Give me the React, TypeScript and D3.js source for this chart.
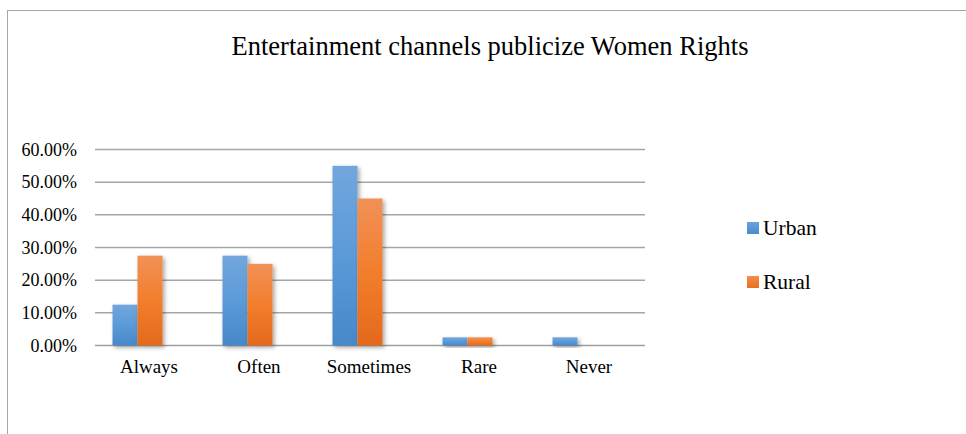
import React from "react";
import * as d3 from "d3";

const categories = ["Always", "Often", "Sometimes", "Rare", "Never"];
const seriesNames = ["Urban", "Rural"];
const urban = [0.125, 0.275, 0.55, 0.025, 0.025];
const rural = [0.275, 0.25, 0.45, 0.025, 0];
const yTicks = [0, 0.1, 0.2, 0.3, 0.4, 0.5, 0.6];

const W = 966;
const H = 434;
const FONT = "'Liberation Serif', 'Times New Roman', serif";

export default function App() {
  const x = d3.scaleBand<string>().domain(categories).range([95, 645]);
  const y = d3.scaleLinear().domain([0, 0.6]).range([345.5, 149.5]);
  const barW = 25;
  const series = [urban, rural];
  const fmt = d3.format(".2%");
  return (
    <svg
      width={W}
      height={H}
      style={{ position: "absolute", left: 0, top: 0, background: "#fff" }}
    >
      <defs>
        <linearGradient id="gBlue" x1="0" y1="0" x2="0" y2="1">
          <stop offset="0" stopColor="#72a6dd" />
          <stop offset="0.5" stopColor="#5b9ad8" />
          <stop offset="1" stopColor="#4788c8" />
        </linearGradient>
        <linearGradient id="gOrange" x1="0" y1="0" x2="0" y2="1">
          <stop offset="0" stopColor="#f19158" />
          <stop offset="0.5" stopColor="#f27e2c" />
          <stop offset="1" stopColor="#e4691c" />
        </linearGradient>
        <linearGradient id="lBlue" x1="0" y1="0" x2="0" y2="1">
          <stop offset="0" stopColor="#6aa3de" />
          <stop offset="1" stopColor="#4a8bcb" />
        </linearGradient>
        <linearGradient id="lOrange" x1="0" y1="0" x2="0" y2="1">
          <stop offset="0" stopColor="#f48d4c" />
          <stop offset="1" stopColor="#e86f1e" />
        </linearGradient>
        <filter id="shadow" x="-30%" y="-10%" width="160%" height="130%">
          <feDropShadow dx="2" dy="2" stdDeviation="2" floodColor="#000" floodOpacity="0.35" />
        </filter>
      </defs>
      <rect x={0} y={0} width={W} height={H} fill="#fff" />
      <line x1={7.5} y1={10} x2={7.5} y2={H} stroke="#a6a6a6" strokeWidth={1} />
      <line x1={7} y1={10.5} x2={W} y2={10.5} stroke="#a6a6a6" strokeWidth={1} />
      <text
        x={490}
        y={54.5}
        textAnchor="middle"
        fontFamily={FONT}
        fontSize={26.5}
        fill="#000"
      >
        Entertainment channels publicize Women Rights
      </text>
      {yTicks.map((t) => (
        <g key={t}>
          <line
            x1={95}
            x2={645}
            y1={y(t)}
            y2={y(t)}
            stroke={t === 0 ? "#a0a0a0" : "#a6a6a6"}
            strokeWidth={1.5}
          />
          <text
            x={77}
            y={y(t)}
            dy="0.35em"
            textAnchor="end"
            fontFamily={FONT}
            fontSize={18}
            fill="#000"
          >
            {fmt(t)}
          </text>
        </g>
      ))}
      {categories.map((c, i) => {
        const cx = (x(c) as number) + x.bandwidth() / 2;
        return (
          <g key={c}>
            {series.map((s, j) => {
              const v = s[i];
              if (v <= 0) return null;
              const bx = cx - 37.5 + j * barW;
              return (
                <rect
                  key={j}
                  x={bx}
                  y={y(v)}
                  width={barW}
                  height={y(0) - y(v)}
                  fill={j === 0 ? "url(#gBlue)" : "url(#gOrange)"}
                  filter="url(#shadow)"
                />
              );
            })}
            <text
              x={cx - 1}
              y={373}
              textAnchor="middle"
              fontFamily={FONT}
              fontSize={19}
              fill="#000"
            >
              {c}
            </text>
          </g>
        );
      })}
      {seriesNames.map((n, j) => (
        <g key={n} transform={`translate(747, ${222 + j * 54})`}>
          <rect width={12} height={12} fill={j === 0 ? "url(#lBlue)" : "url(#lOrange)"} />
          <text x={16} y={13} fontFamily={FONT} fontSize={21.5} fill="#000">
            {n}
          </text>
        </g>
      ))}
    </svg>
  );
}
